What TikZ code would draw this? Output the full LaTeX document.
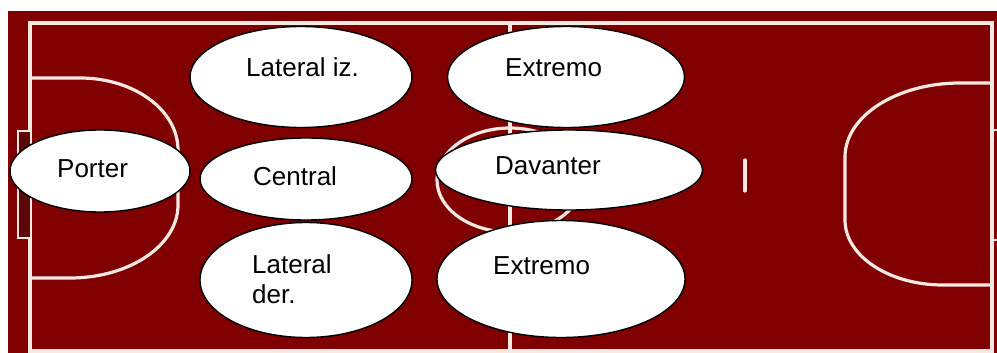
\documentclass[tikz,border=0pt]{standalone}
\usepackage{fontspec}
\setmainfont{Liberation Sans}
\usetikzlibrary{shapes.geometric}
\definecolor{courtred}{RGB}{128,0,2}
\definecolor{courtline}{RGB}{252,232,226}
\definecolor{goalin}{RGB}{92,8,8}
\tikzset{
  courtln/.style={draw=courtline, line width=3.2pt},
  player/.style={ellipse, draw=black, line width=1.4pt, fill=white, inner sep=0pt},
  lbl/.style={anchor=base west, inner sep=0pt, font=\fontsize{26}{30}\selectfont, text=black}
}
\begin{document}
\begin{tikzpicture}[x=1pt,y=-1pt]
\useasboundingbox (0,0) rectangle (997,353);
\fill[white] (0,0) rectangle (997,353);
\fill[courtred] (8,11) rectangle (997,353);
% outer court lines
\draw[courtln] (30,353) -- (30,23) -- (992,23) -- (992,353);
\draw[courtln] (30,351) -- (992,351);
% centre line and centre circle
\draw[courtln] (510,23) -- (510,353);
\draw[courtln] (510,180) ellipse [x radius=73pt, y radius=52pt];
% left goal
\draw[draw=courtline, line width=2.6pt, fill=goalin] (30,131) -- (18,131) -- (18,238) -- (30,238);
% left 6m area
\draw[courtln] (30,78) -- (80,78) .. controls (134,78) and (178,110) .. (178,150)
  -- (178,205) .. controls (178,245) and (130,278) .. (70,278) -- (30,278);
% right 6m area
\draw[courtln] (992,83) -- (960,83) .. controls (897,83) and (845,116) .. (845,157)
  -- (845,220) .. controls (845,256) and (889,285) .. (943,285) -- (992,285);
% mark
\draw[courtln, line cap=round] (745,160) -- (745,191);
% small ticks at right goal line
\draw[draw=courtline, line width=1.6pt] (992,130) -- (997,130);
\draw[draw=courtline, line width=1.6pt] (992,240) -- (997,240);
% players
\node[player, minimum width=222pt, minimum height=101pt] (latiz) at (301,77) {};
\node[player, minimum width=237pt, minimum height=101pt] (ext1) at (566,77) {};
\node[player, minimum width=180pt, minimum height=82pt] (porter) at (100,171) {};
\node[player, minimum width=212pt, minimum height=82pt] (central) at (306,179) {};
\node[player, minimum width=212pt, minimum height=115pt] (latder) at (306,280) {};
\node[player, minimum width=248pt, minimum height=117pt] (ext2) at (561,279) {};
\node[player, minimum width=267pt, minimum height=80pt] (davanter) at (569,170) {};
% labels
\node[lbl] (tlatiz) at (246,77) {Lateral iz.};
\node[lbl] (text1) at (505,77) {Extremo};
\node[lbl] (tporter) at (57,177) {Porter};
\node[lbl] (tcentral) at (253,185) {Central};
\node[lbl] (tdavanter) at (495,174) {Davanter};
\node[lbl, align=left] (tlatder) at (252,303) {Lateral\\der.};
\node[lbl] (text2) at (493,274) {Extremo};
\end{tikzpicture}
\end{document}
